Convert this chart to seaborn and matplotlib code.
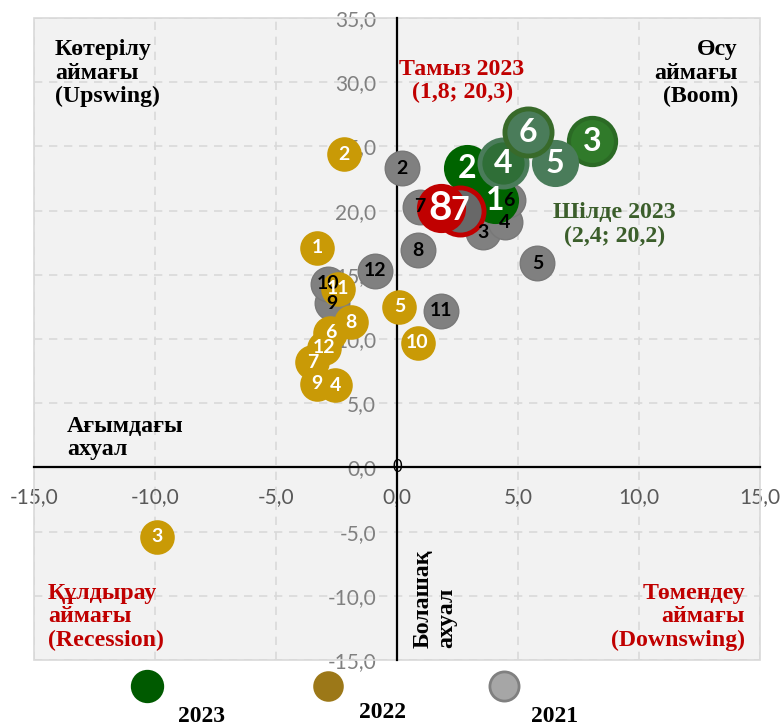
import matplotlib
matplotlib.use("Agg")
import matplotlib.pyplot as plt
from matplotlib.lines import Line2D
from matplotlib.patches import Rectangle
import seaborn as sns


# ---------------------------------------------------------------------------
# Data: x = current conditions, y = future expectations, label = month
# ---------------------------------------------------------------------------

months_2023 = [1, 2, 3, 4, 5, 6, 7, 8]
x_2023 = [4.05, 2.9, 8.05, 4.38, 6.53, 5.41, 2.6, 1.8]
y_2023 = [20.8, 23.3, 25.4, 23.7, 23.7, 26.1, 20.0, 20.2]

months_2022 = [1, 2, 3, 4, 5, 6, 7, 8, 9, 10, 11, 12]
x_2022 = [-3.3, -2.2, -9.9, -2.55, 0.1, -2.75, -3.5, -1.9, -3.3, 0.85, -2.45, -3.0]
y_2022 = [17.1, 24.4, -5.4, 6.4, 12.5, 10.5, 8.2, 11.3, 6.5, 9.7, 13.9, 9.3]

months_2021 = [2, 3, 4, 5, 6, 7, 8, 9, 10, 11, 12]
x_2021 = [0.2, 3.55, 4.45, 5.8, 4.6, 0.95, 0.85, -2.7, -2.85, 1.8, -0.9]
y_2021 = [23.3, 18.3, 19.1, 15.9, 20.8, 20.3, 16.9, 12.8, 14.3, 12.2, 15.3]

x_ticks = [-15, -10, -5, 0, 5, 10, 15]
y_ticks = [-15, -10, -5, 0, 5, 10, 15, 20, 25, 30, 35]
legend_years = ["2023", "2022", "2021"]

# per-point styles for the 2023 bubbles (July/August highlighted in red)
face_2023 = ["#006400", "#006400", "#307a2a", "#2f6e37", "#4a7c5a", "#4a7c5a", "#686868", "#c00000"]
edge_2023 = ["#006400", "#006400", "#2b6a25", "#4a7c5a", "#4a7c5a", "#386a2a", "#c00000", "#c00000"]
lw_2023 = [0, 0, 3, 3.5, 0, 3.5, 3.5, 1.5]
fs_2023 = [23, 23, 23, 23, 23, 23, 23, 29]

RED = "#c00000"
SERIF = ["Liberation Serif", "DejaVu Serif"]


def fmt(v):
    return f"{v:.1f}".replace(".", ",")


sns.set_style("white")
plt.rcParams["font.family"] = ["Lato", "DejaVu Sans"]

fig = plt.figure(figsize=(7.84, 7.28), dpi=100)
ax = fig.add_axes([34 / 784, 68 / 728, 726 / 784, 642 / 728])
ax.set_facecolor("#f2f2f2")

# ---------------------------------------------------------------------------
# Bubbles
# ---------------------------------------------------------------------------

sns.scatterplot(x=x_2021, y=y_2021, s=620, color="#808080", edgecolor="#787878",
                linewidth=1, zorder=3, ax=ax, legend=False)
sns.scatterplot(x=x_2022, y=y_2022, s=620, color="#c99a06", edgecolor="#c99a06",
                linewidth=0, zorder=4, ax=ax, legend=False)
for i in range(len(months_2023)):
    ax.scatter(x_2023[i], y_2023[i], s=1150, facecolor=face_2023[i],
               edgecolor=edge_2023[i], linewidth=lw_2023[i], zorder=5)

# data labels (drawn above every series)
for m, x, y in zip(months_2021, x_2021, y_2021):
    ax.text(x, y, str(m), ha="center", va="center", fontsize=14,
            fontweight="bold", color="black", zorder=10)
for m, x, y in zip(months_2022, x_2022, y_2022):
    ax.text(x, y, str(m), ha="center", va="center", fontsize=14,
            fontweight="bold", color="white", zorder=10)
for i, m in enumerate(months_2023):
    ax.text(x_2023[i], y_2023[i], str(m), ha="center", va="center",
            fontsize=fs_2023[i], fontweight="bold", color="white", zorder=11)

# ---------------------------------------------------------------------------
# Axes crossing at the origin
# ---------------------------------------------------------------------------

ax.set_xlim(-15, 15)
ax.set_ylim(-15, 35)
ax.set_xticks(x_ticks)
ax.set_xticklabels([fmt(v) for v in x_ticks])
ax.set_yticks(y_ticks)
ax.set_yticklabels([fmt(v) for v in y_ticks])
ax.tick_params(axis="x", length=0, pad=14, labelsize=15, labelcolor="#595959")
ax.tick_params(axis="y", length=0, pad=15, labelsize=15, labelcolor="#808080")
ax.grid(True, linestyle=(0, (5, 4)), color="#d9d9d9", linewidth=1.2)

ax.spines["left"].set_position(("data", 0))
ax.spines["bottom"].set_position(("data", 0))
for side in ["left", "bottom"]:
    ax.spines[side].set_color("black")
    ax.spines[side].set_linewidth(1.6)
ax.spines["top"].set_visible(False)
ax.spines["right"].set_visible(False)
ax.add_patch(Rectangle((0, 0), 1, 1, transform=ax.transAxes, fill=False,
                       edgecolor="#d9d9d9", linewidth=1.2, zorder=1.6, clip_on=False))
ax.text(0, 0, "0", ha="center", va="center", fontsize=12, color="black", zorder=6)

# ---------------------------------------------------------------------------
# Quadrant captions
# ---------------------------------------------------------------------------

cap = dict(fontsize=17.2, fontweight="bold", family=SERIF, linespacing=1.15, zorder=12)
ax.text(-14.13, 30.7, "Көтерілу\nаймағы\n(Upswing)", ha="left", va="center",
        color="black", **cap)
ax.text(14.09, 30.7, "Өсу\nаймағы\n(Boom)", ha="right", va="center",
        multialignment="right", color="black", **cap)
ax.text(2.69, 30.1, "Тамыз 2023\n(1,8; 20,3)", ha="center", va="center",
        multialignment="center", color=RED, **cap)
ax.text(8.97, 18.9, "Шілде 2023\n(2,4; 20,2)", ha="center", va="center",
        multialignment="center", color="#3b5e2b", **cap)
ax.text(-13.64, 2.3, "Ағымдағы\nахуал", ha="left", va="center", color="black", **cap)
ax.text(-14.42, -11.65, "Құлдырау\nаймағы\n(Recession)", ha="left", va="center",
        color=RED, **cap)
ax.text(14.38, -11.65, "Төмендеу\nаймағы\n(Downswing)", ha="right", va="center",
        multialignment="right", color=RED, **cap)
ax.text(1.57, -14.06, "Болашақ\nахуал", ha="center", va="bottom", rotation=90,
        multialignment="left", color="black", **cap)

# ---------------------------------------------------------------------------
# Legend under the plot: marker above the year
# ---------------------------------------------------------------------------

leg_face = ["#005a00", "#9c7818", "#a6a6a6"]
leg_edge = ["#005a00", "#9c7818", "#808080"]
leg_ms = [22, 20, 21]
leg_mx = [147 / 784, 328 / 784, 504 / 784]
leg_tx = [202 / 784, 382 / 784, 555 / 784]
leg_ty = [11 / 728, 16 / 728, 11 / 728]
for i, year in enumerate(legend_years):
    fig.add_artist(Line2D([leg_mx[i]], [42 / 728], marker="o", markersize=leg_ms[i],
                          markerfacecolor=leg_face[i], markeredgecolor=leg_edge[i],
                          markeredgewidth=2, linestyle="none", transform=fig.transFigure))
    fig.text(leg_tx[i], leg_ty[i], year, ha="center", va="center", fontsize=17,
             fontweight="bold", family=SERIF, color="black")

fig.savefig("out.png", dpi=100, facecolor="white")
